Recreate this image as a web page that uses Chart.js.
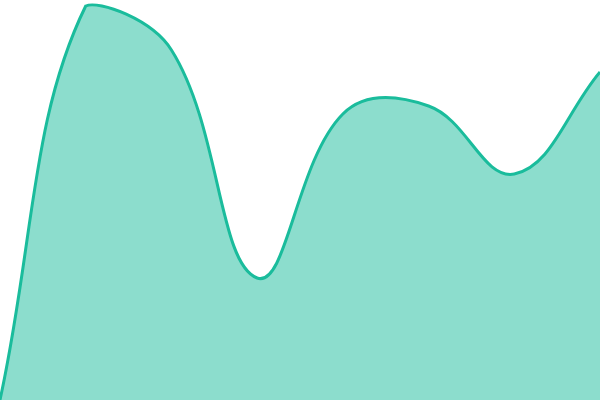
<!DOCTYPE html>
<html>
<head>
<meta charset="utf-8">
<script src="https://cdn.jsdelivr.net/npm/chart.js@4"></script>
<style>
  html, body { margin: 0; padding: 0; background: #fff; }
  #wrap { width: 600px; height: 400px; }
</style>
</head>
<body>
<div id="wrap"><canvas id="areaChart"></canvas></div>
<script>
// データ
const labels = ["1", "2", "3", "4", "5", "6", "7", "8"];
const values = [0, 98.5, 87.5, 30.5, 71.5, 73.5, 56.5, 82];

const ctx = document.getElementById("areaChart");

new Chart(ctx, {
    type: "line",
    data: {
        labels: labels,
        datasets: [
            {
                data: values,
                borderColor: "#1abc9c",
                backgroundColor: "rgba(26, 188, 156, 0.5)",
                borderWidth: 3,
                fill: true,
                tension: 0.4,
                pointRadius: 0
            }
        ]
    },
    options: {
        responsive: true,
        maintainAspectRatio: false,
        animation: false,
        layout: { padding: 0 },
        plugins: {
            legend: { display: false },
            tooltip: { enabled: false }
        },
        scales: {
            x: { display: false },
            y: { display: false, min: 0, max: 100 }
        }
    }
});
</script>
</body>
</html>
